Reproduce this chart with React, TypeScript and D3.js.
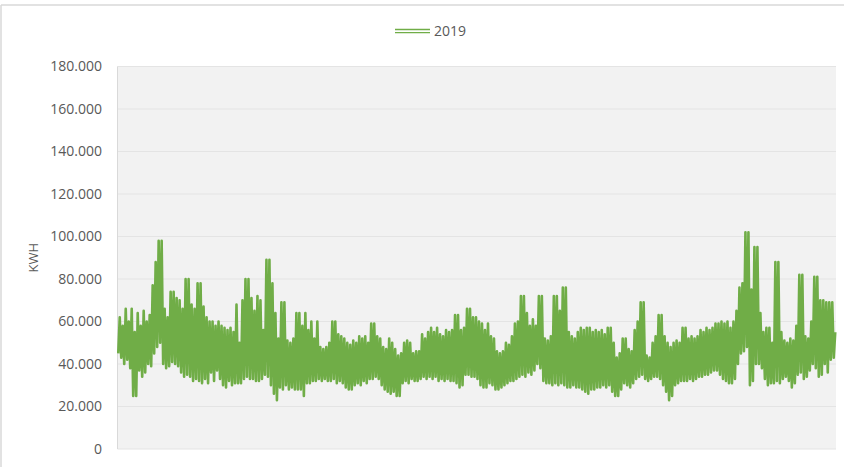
import React from "react";
import * as d3 from "d3";

// Hourly-style 2019 consumption, in thousands of kWh, stored month by month.
// Each month holds alternating low / high readings that trace the daily swing.
const jan = [
  45, 62, 43, 58, 40, 66, 42, 60, 38, 66, 25, 55, 25, 64, 37, 58, 34, 65, 36, 60,
  40, 63, 39, 77, 45, 88, 48, 98, 50, 98, 40, 66, 38, 62, 39, 74, 41, 74, 40, 71,
];
const feb = [
  39, 70, 36, 66, 34, 80, 35, 80, 34, 68, 32, 66, 33, 78, 32, 78, 31, 67, 33, 62,
  31, 60, 36, 60, 32, 58, 37, 60, 33, 58, 30, 57, 29, 56, 32, 57, 30, 55, 31, 68,
];
const mar = [
  31, 50, 31, 70, 33, 80, 34, 80, 33, 71, 33, 65, 32, 72, 32, 70, 33, 56, 35, 89,
  34, 89, 30, 78, 26, 64, 23, 52, 29, 69, 28, 69, 30, 51, 28, 50, 29, 52, 28, 64,
];
const apr = [
  28, 64, 28, 58, 25, 64, 31, 56, 31, 60, 32, 52, 32, 60, 33, 48, 32, 47, 33, 48,
  32, 50, 32, 60, 33, 60, 31, 54, 32, 53, 31, 52, 29, 50, 28, 49, 28, 51, 30, 50,
];
const may = [
  31, 53, 30, 52, 32, 53, 31, 50, 33, 59, 33, 59, 34, 53, 33, 52, 30, 48, 28, 47,
  27, 52, 26, 50, 27, 47, 25, 44, 25, 45, 31, 50, 32, 51, 31, 50, 33, 45, 32, 46,
];
const jun = [
  32, 46, 33, 54, 34, 52, 33, 55, 34, 57, 33, 55, 34, 57, 32, 54, 33, 53, 32, 56,
  33, 55, 32, 56, 32, 63, 31, 63, 29, 56, 30, 57, 35, 66, 35, 66, 34, 62, 34, 62,
];
const jul = [
  33, 60, 30, 59, 29, 56, 29, 59, 31, 53, 30, 52, 28, 46, 28, 45, 29, 46, 30, 50,
  31, 49, 32, 53, 32, 59, 33, 60, 34, 72, 35, 72, 34, 64, 36, 58, 35, 61, 37, 58,
];
const aug = [
  40, 72, 38, 72, 32, 52, 31, 51, 31, 53, 30, 72, 31, 72, 30, 65, 31, 76, 30, 76,
  29, 55, 29, 53, 30, 52, 29, 55, 29, 57, 28, 56, 27, 57, 26, 57, 28, 55, 28, 56,
];
const sep = [
  29, 55, 29, 56, 30, 54, 29, 57, 30, 57, 27, 50, 25, 43, 25, 45, 28, 52, 31, 52,
  30, 47, 29, 46, 31, 56, 33, 60, 34, 69, 35, 69, 33, 44, 32, 43, 33, 50, 34, 53,
];
const oct = [
  34, 63, 33, 63, 30, 53, 27, 50, 23, 48, 25, 50, 30, 51, 31, 50, 32, 57, 32, 57,
  32, 52, 33, 53, 32, 52, 33, 53, 34, 56, 34, 55, 35, 57, 35, 56, 36, 57, 37, 59,
];
const nov = [
  37, 59, 35, 60, 33, 59, 32, 60, 31, 57, 31, 60, 33, 65, 40, 76, 45, 78, 46, 102,
  48, 102, 30, 75, 32, 95, 40, 95, 40, 64, 38, 55, 33, 57, 30, 57, 31, 50, 31, 88,
];
const dec = [
  32, 88, 31, 55, 33, 51, 34, 50, 32, 52, 29, 51, 31, 58, 35, 82, 36, 82, 33, 53,
  34, 52, 37, 60, 40, 81, 38, 81, 34, 70, 35, 70, 40, 69, 36, 69, 42, 69, 43, 55,
];

const series2019 = [...jan, ...feb, ...mar, ...apr, ...may, ...jun, ...jul, ...aug, ...sep, ...oct, ...nov, ...dec];

const yTicks = [0, 20, 40, 60, 80, 100, 120, 140, 160, 180];
const seriesName = "2019";
const axisTitle = "KWH";

const WIDTH = 844;
const HEIGHT = 467;
const plot = { left: 117.5, right: 836, top: 66.5, bottom: 449 };
const GREEN = "#70ad47";
const TEXT = "#595959";
const FONT = "'Open Sans', 'Noto Sans', sans-serif";

const locale = d3.formatLocale({ decimal: ",", thousands: ".", grouping: [3], currency: ["", ""] });
const fmt = locale.format(",.0f");

export default function App() {
  const x = d3.scaleLinear().domain([0, series2019.length]).range([plot.left, plot.right]);
  const y = d3.scaleLinear().domain([0, 180]).range([plot.bottom, plot.top]);

  const line = d3
    .line<number>()
    .x((_, i) => x(i + 0.5))
    .y((d) => y(d));

  return (
    <svg
      width={WIDTH}
      height={HEIGHT}
      style={{ position: "absolute", left: 0, top: 0, background: "#fff" }}
    >
      {/* chart frame */}
      <line x1={1} x2={WIDTH} y1={5} y2={5} stroke="#d9d9d9" strokeWidth={1.5} />
      <line x1={1} x2={1} y1={5} y2={HEIGHT} stroke="#d9d9d9" strokeWidth={1.5} />

      {/* plot area */}
      <rect
        x={plot.left}
        y={plot.top}
        width={plot.right - plot.left}
        height={plot.bottom - plot.top}
        fill="#f2f2f2"
      />
      {yTicks.map((t) => (
        <line
          key={t}
          x1={plot.left}
          x2={plot.right}
          y1={y(t)}
          y2={y(t)}
          stroke="#e4e4e4"
          strokeWidth={1.2}
        />
      ))}
      <line x1={plot.left} x2={plot.left} y1={plot.top} y2={plot.bottom} stroke="#d9d9d9" strokeWidth={1} />

      {/* y axis labels */}
      {yTicks.map((t) => (
        <text
          key={t}
          x={102}
          y={y(t)}
          dy="0.35em"
          textAnchor="end"
          fontFamily={FONT}
          fontSize={14}
          fill={TEXT}
        >
          {t === 0 ? "0" : fmt(t * 1000)}
        </text>
      ))}
      <text
        transform={`translate(37.5, ${(plot.top + plot.bottom) / 2}) rotate(-90)`}
        textAnchor="middle"
        fontFamily={FONT}
        fontSize={13}
        fill={TEXT}
      >
        {axisTitle}
      </text>

      {/* hourly trace */}
      <path
        d={line(series2019) ?? ""}
        fill="none"
        stroke={GREEN}
        strokeWidth={2.6}
        strokeLinejoin="round"
      />

      {/* legend */}
      <line x1={395} x2={430} y1={29.5} y2={29.5} stroke={GREEN} strokeWidth={1.4} />
      <line x1={395} x2={430} y1={32.6} y2={32.6} stroke={GREEN} strokeWidth={1.4} />
      <text x={434} y={31} dy="0.35em" fontFamily={FONT} fontSize={14} fill={TEXT}>
        {seriesName}
      </text>
    </svg>
  );
}
